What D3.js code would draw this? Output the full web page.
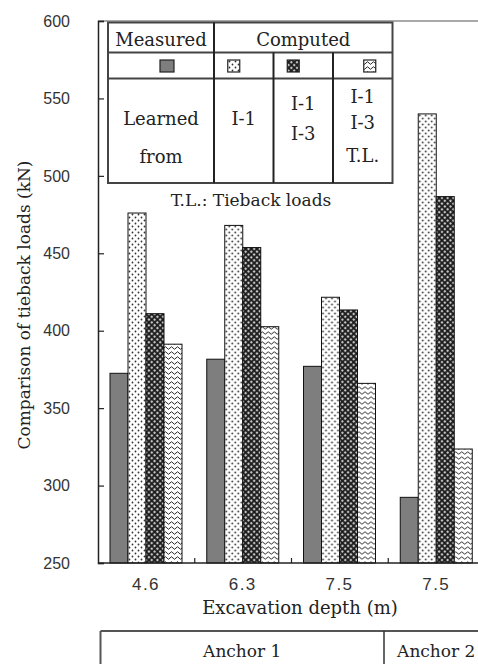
<!DOCTYPE html>
<html>
<head>
<meta charset="utf-8">
<script src="https://cdn.jsdelivr.net/npm/d3@7"></script>
<style>
  html, body { margin: 0; padding: 0; background: #fff; }
  svg { display: block; }
</style>
</head>
<body>
<svg id="chart" width="478" height="664"></svg>
<script>
// ---- data ----
const depths = ["4.6", "6.3", "7.5", "7.5"];
const seriesKeys = ["measured", "i1", "i1i3", "i1i3tl"];
const measured = [372.5, 381.6, 377, 292.4];
const computedI1 = [476, 468, 421.6, 540];
const computedI1I3 = [411, 453.7, 413.4, 486.6];
const computedI1I3TL = [391.3, 402.6, 366, 323.6];
const yTicks = [250, 300, 350, 400, 450, 500, 550, 600];
const anchors = ["Anchor 1", "Anchor 2"];
const anchorSpans = [[0, 2], [3, 3]];
const legendHeader = ["Measured", "Computed"];
const learnedFrom = [["Learned", "from"], ["I-1"], ["I-1", "I-3"], ["I-1", "I-3", "T.L."]];

const values = [measured, computedI1, computedI1I3, computedI1I3TL];

const svg = d3.select("#chart");
const serif = "DejaVu Serif, serif";
const sans = "Liberation Sans, Arial, sans-serif";

// ---- patterns ----
const defs = svg.append("defs");
const pDots = defs.append("pattern").attr("id", "p-i1").attr("patternUnits", "userSpaceOnUse")
  .attr("width", 6).attr("height", 6);
pDots.append("rect").attr("width", 6).attr("height", 6).attr("fill", "#fff");
pDots.append("circle").attr("cx", 1.5).attr("cy", 1.5).attr("r", 0.9).attr("fill", "#333");
pDots.append("circle").attr("cx", 4.5).attr("cy", 4.5).attr("r", 0.9).attr("fill", "#333");

const pCross = defs.append("pattern").attr("id", "p-i1i3").attr("patternUnits", "userSpaceOnUse")
  .attr("width", 4).attr("height", 4).attr("patternTransform", "rotate(45)");
pCross.append("rect").attr("width", 4).attr("height", 4).attr("fill", "#1a1a1a");
pCross.append("rect").attr("x", 0.9).attr("y", 0.9).attr("width", 2.2).attr("height", 2.2).attr("fill", "#c4c4c4");

const pWave = defs.append("pattern").attr("id", "p-i1i3tl").attr("patternUnits", "userSpaceOnUse")
  .attr("width", 6).attr("height", 5);
pWave.append("rect").attr("width", 6).attr("height", 5).attr("fill", "#fff");
pWave.append("path").attr("d", "M0 3 Q1.5 0.5 3 3 T6 3").attr("fill", "none")
  .attr("stroke", "#111").attr("stroke-width", 0.9);

const fills = {
  measured: "#7e7e7e",
  i1: "url(#p-i1)",
  i1i3: "url(#p-i1i3)",
  i1i3tl: "url(#p-i1i3tl)"
};

// ---- scales ----
const y = d3.scaleLinear().domain([250, 600]).range([563, 21]);
const x0 = d3.scaleBand().domain(d3.range(depths.length)).range([98, 485]).padding(0);
const x1 = d3.scaleBand().domain(seriesKeys).range([12, 84]).padding(0);

// ---- bars ----
const groups = svg.append("g").selectAll("g").data(depths).join("g")
  .attr("transform", (d, i) => `translate(${x0(i)},0)`);
groups.selectAll("rect").data((d, i) => seriesKeys.map((k, s) => ({ k, v: values[s][i] })))
  .join("rect")
  .attr("x", d => x1(d.k))
  .attr("y", d => y(d.v))
  .attr("width", x1.bandwidth())
  .attr("height", d => y(250) - y(d.v))
  .attr("fill", d => fills[d.k])
  .attr("stroke", "#111")
  .attr("stroke-width", 1);

// ---- frame ----
svg.append("line").attr("x1", 98).attr("x2", 478).attr("y1", y(600)).attr("y2", y(600))
  .attr("stroke", "#8c8c8c").attr("stroke-width", 1.5);

// y axis (ticks inward)
const yAxis = svg.append("g").attr("transform", "translate(98,0)")
  .call(d3.axisRight(y).tickValues(yTicks).tickSize(6).tickFormat(""));
yAxis.select(".domain").attr("stroke", "#222").attr("stroke-width", 1.5);
yAxis.selectAll(".tick line").attr("stroke", "#222").attr("stroke-width", 1.2);
svg.append("g").selectAll("text").data(yTicks).join("text")
  .attr("x", 70).attr("y", d => y(d)).attr("dy", "0.36em")
  .attr("text-anchor", "end").attr("font-family", sans).attr("font-size", 16)
  .attr("fill", "#333").text(d => d);

// x axis
svg.append("line").attr("x1", 98).attr("x2", 478).attr("y1", 563).attr("y2", 563)
  .attr("stroke", "#222").attr("stroke-width", 1.5);
svg.append("g").selectAll("line").data(d3.range(1, depths.length)).join("line")
  .attr("x1", i => x0(i)).attr("x2", i => x0(i)).attr("y1", 563).attr("y2", 558)
  .attr("stroke", "#222").attr("stroke-width", 1.2);
svg.append("g").selectAll("text").data(depths).join("text")
  .attr("x", (d, i) => x0(i) + 48).attr("y", 590)
  .attr("text-anchor", "middle").attr("font-family", sans).attr("font-size", 17)
  .attr("letter-spacing", 1.5)
  .attr("fill", "#333").text(d => d);

// axis titles
svg.append("text").attr("x", 300).attr("y", 614).attr("text-anchor", "middle")
  .attr("font-family", serif).attr("font-size", 18).attr("fill", "#222")
  .text("Excavation depth (m)");
svg.append("text").attr("transform", "translate(30,305) rotate(-90)").attr("text-anchor", "middle")
  .attr("font-family", serif).attr("font-size", 17).attr("fill", "#222")
  .text("Comparison of tieback loads (kN)");

// ---- legend table ----
const lg = svg.append("g");
const tL = 108, tR = 392.5, tT = 22.5, r1 = 52.5, r2 = 78.5, tB = 183;
const colX = [tL, 214, 273.5, 333, tR];
const bc = "#444";
const fs = 18;
lg.append("rect").attr("x", tL).attr("y", tT).attr("width", tR - tL).attr("height", tB - tT)
  .attr("fill", "#fff").attr("stroke", bc).attr("stroke-width", 2);
[r1, r2].forEach(yy => lg.append("line").attr("x1", tL).attr("x2", tR).attr("y1", yy).attr("y2", yy)
  .attr("stroke", bc).attr("stroke-width", 2));
lg.append("line").attr("x1", colX[1]).attr("x2", colX[1]).attr("y1", tT).attr("y2", tB)
  .attr("stroke", "#222").attr("stroke-width", 2);
[colX[2], colX[3]].forEach(xx => lg.append("line").attr("x1", xx).attr("x2", xx).attr("y1", r1).attr("y2", tB)
  .attr("stroke", "#222").attr("stroke-width", 2));
// header
lg.append("text").attr("x", (colX[0] + colX[1]) / 2).attr("y", 46).attr("text-anchor", "middle")
  .attr("font-family", serif).attr("font-size", fs).attr("fill", "#222").text(legendHeader[0]);
lg.append("text").attr("x", (colX[1] + colX[4]) / 2).attr("y", 46).attr("text-anchor", "middle")
  .attr("font-family", serif).attr("font-size", fs).attr("fill", "#222").text(legendHeader[1]);
// swatches
const swOff = [6, -10, -10, 7];
seriesKeys.forEach((k, i) => {
  const cx = (colX[i] + colX[i + 1]) / 2 + swOff[i];
  const w = i === 0 ? 14 : 12;
  lg.append("rect").attr("x", cx - w / 2).attr("y", 60).attr("width", w).attr("height", 12)
    .attr("fill", fills[k]).attr("stroke", "#222").attr("stroke-width", 1.2);
});
// learned from lines
const lineY = [[125, 163], [125], [110, 140], [103, 129, 162]];
learnedFrom.forEach((lines, i) => {
  const cx = (colX[i] + colX[i + 1]) / 2;
  lines.forEach((t, j) => {
    lg.append("text").attr("x", cx).attr("y", lineY[i][j]).attr("text-anchor", "middle")
      .attr("font-family", serif).attr("font-size", fs).attr("fill", "#222").text(t);
  });
});
lg.append("text").attr("x", 251).attr("y", 206).attr("text-anchor", "middle")
  .attr("font-family", serif).attr("font-size", 17).attr("fill", "#222").text("T.L.: Tieback loads");

// ---- anchor table ----
const ag = svg.append("g");
ag.append("line").attr("x1", 100.5).attr("x2", 478).attr("y1", 631).attr("y2", 631)
  .attr("stroke", "#555").attr("stroke-width", 2);
ag.append("line").attr("x1", 100.5).attr("x2", 100.5).attr("y1", 631).attr("y2", 664)
  .attr("stroke", "#555").attr("stroke-width", 2);
ag.append("line").attr("x1", 384).attr("x2", 384).attr("y1", 631).attr("y2", 664)
  .attr("stroke", "#333").attr("stroke-width", 1.5);
anchors.forEach((a, i) => {
  const cx = i === 0 ? (100.5 + 384) / 2 : x0(anchorSpans[i][0]) + 48;
  ag.append("text").attr("x", cx).attr("y", 657).attr("text-anchor", "middle")
    .attr("font-family", serif).attr("font-size", 17).attr("fill", "#222").text(a);
});
</script>
</body>
</html>
